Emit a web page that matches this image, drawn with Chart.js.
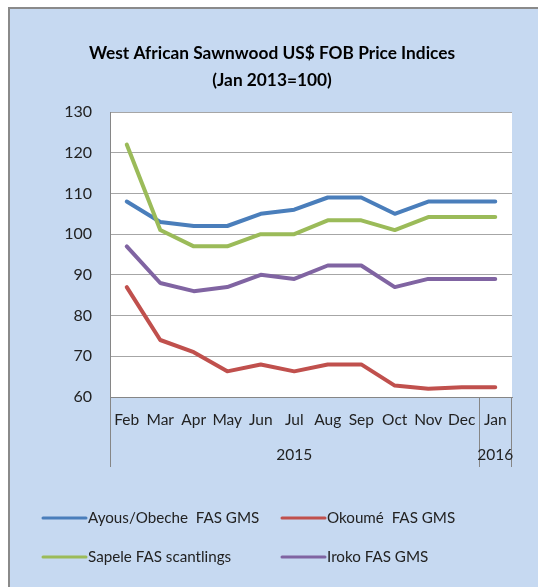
<!DOCTYPE html>
<html>
<head>
<meta charset="utf-8">
<script src="https://cdn.jsdelivr.net/npm/chart.js@4"></script>
<style>
    html, body { margin: 0; padding: 0; background: #fff; }
    #wrap { width: 538px; height: 587px; position: relative; }
</style>
</head>
<body>
<div id="wrap"><canvas id="chart" width="538" height="587"></canvas></div>
<script>
const months = ['Feb', 'Mar', 'Apr', 'May', 'Jun', 'Jul', 'Aug', 'Sep', 'Oct', 'Nov', 'Dec', 'Jan'];
const years = ['2015', '2016'];
const titleLines = ['West African Sawnwood US$ FOB Price Indices', '(Jan 2013=100)'];

const ayous = [108, 103, 102, 102, 105, 106, 109, 109, 105, 108, 108, 108];
const okoume = [87, 74, 71, 66.3, 68, 66.3, 68, 68, 62.8, 62, 62.4, 62.4];
const sapele = [122, 101, 97, 97, 100, 100, 103.4, 103.4, 101, 104.2, 104.2, 104.2];
const iroko = [97, 88, 86, 87, 90, 89, 92.3, 92.3, 87, 89, 89, 89];

const FONT = 'Lato, "Open Sans", sans-serif';

// background, frame, title, multi-level axis and legend
const framePlugin = {
    id: 'frame',
    beforeDraw(chart) {
        const ctx = chart.ctx;
        const a = chart.chartArea;
        ctx.save();
        ctx.fillStyle = '#c6d9f1';
        ctx.fillRect(9, 8, chart.width - 9, chart.height - 8);
        ctx.strokeStyle = '#8a8a8a';
        ctx.lineWidth = 2;
        ctx.beginPath();
        ctx.moveTo(9, chart.height);
        ctx.lineTo(9, 8);
        ctx.lineTo(chart.width, 8);
        ctx.stroke();
        ctx.fillStyle = '#ffffff';
        ctx.fillRect(a.left, a.top, a.right - a.left, a.bottom - a.top);
        ctx.restore();
    },
    afterDraw(chart) {
        const ctx = chart.ctx;
        const a = chart.chartArea;
        const x = chart.scales.x;
        ctx.save();

        // title
        ctx.fillStyle = '#000';
        ctx.textAlign = 'center';
        ctx.textBaseline = 'middle';
        ctx.font = 'bold 17.3px ' + FONT;
        ctx.fillText(titleLines[0], 272, 53);
        ctx.fillText(titleLines[1], 272, 80);

        // category group lines
        const sep = (x.getPixelForValue(10) + x.getPixelForValue(11)) / 2;
        const lineBottom = 467;
        ctx.strokeStyle = '#868686';
        ctx.lineWidth = 1;
        ctx.beginPath();
        ctx.moveTo(a.left + 0.5, a.bottom);
        ctx.lineTo(a.left + 0.5, lineBottom);
        ctx.moveTo(Math.round(sep) + 0.5, a.bottom);
        ctx.lineTo(Math.round(sep) + 0.5, lineBottom);
        ctx.moveTo(a.right - 0.5, a.bottom);
        ctx.lineTo(a.right - 0.5, lineBottom);
        ctx.stroke();

        // year labels
        ctx.fillStyle = '#222';
        ctx.font = '15.5px ' + FONT;
        ctx.fillText(years[0], (a.left + sep) / 2, 455);
        ctx.fillText(years[1], (sep + a.right) / 2, 455);

        // legend
        const cols = [42, 281];
        const rows = [518, 557];
        const items = [0, 1, 2, 3];
        ctx.font = '15.2px ' + FONT;
        ctx.textAlign = 'left';
        items.forEach((di, i) => {
            const ds = chart.data.datasets[di];
            const lx = cols[i % 2];
            const ly = rows[Math.floor(i / 2)];
            ctx.strokeStyle = ds.borderColor;
            ctx.lineWidth = 3;
            ctx.lineCap = 'round';
            ctx.beginPath();
            ctx.moveTo(lx + 1, ly);
            ctx.lineTo(lx + 44, ly);
            ctx.stroke();
            ctx.fillStyle = '#222';
            ctx.fillText(ds.label, lx + 46, ly);
        });
        ctx.restore();
    }
};

function series(label, data, color, order) {
    return {
        label: label,
        data: data,
        borderColor: color,
        backgroundColor: color,
        borderWidth: 4,
        pointRadius: 0,
        tension: 0,
        borderCapStyle: 'round',
        borderJoinStyle: 'round',
        order: order
    };
}

new Chart(document.getElementById('chart'), {
    type: 'line',
    data: {
        labels: months,
        datasets: [
            series('Ayous/Obeche  FAS GMS', ayous, '#4a7ebb', 4),
            series('Okoumé  FAS GMS', okoume, '#c0504d', 3),
            series('Sapele FAS scantlings', sapele, '#9bbb59', 2),
            series('Iroko FAS GMS', iroko, '#8064a2', 1)
        ]
    },
    options: {
        responsive: false,
        animation: false,
        layout: { padding: { left: 0, top: 112, right: 26, bottom: 120 } },
        plugins: {
            legend: { display: false },
            title: { display: false },
            tooltip: { enabled: false }
        },
        scales: {
            x: {
                offset: true,
                afterFit: (s) => { s.height = 70; },
                grid: { display: false, drawTicks: false },
                border: { display: true, color: '#868686' },
                ticks: {
                    padding: 14,
                    maxRotation: 0,
                    autoSkip: false,
                    color: '#222',
                    font: { family: FONT, size: 15.5 }
                }
            },
            y: {
                min: 60,
                max: 130,
                afterFit: (s) => { s.width = 110; },
                grid: { color: '#a6a6a6', drawTicks: false },
                border: { display: true, color: '#868686' },
                ticks: {
                    stepSize: 10,
                    padding: 18,
                    color: '#222',
                    font: { family: FONT, size: 16 }
                }
            }
        }
    },
    plugins: [framePlugin]
});
</script>
</body>
</html>
